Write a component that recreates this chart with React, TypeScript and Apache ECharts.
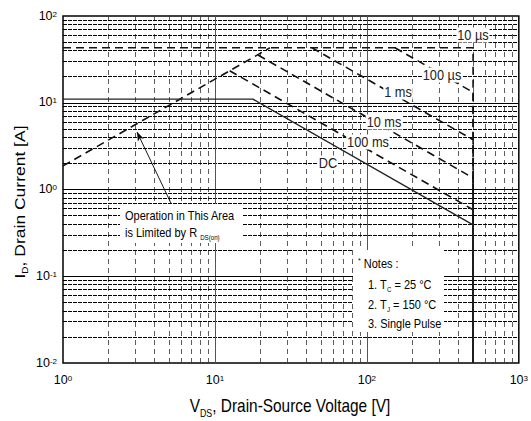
import React, { useEffect, useRef } from "react";
import * as echarts from "echarts";

const FONT = "'Liberation Sans', Arial, Helvetica, sans-serif";

// axis ranges
const xRange = [1, 1000];
const yRange = [0.01, 100];

// grid line values
const xMajorGrid = [10, 100];
const xMinorGrid = [2, 3, 4, 5, 6, 7, 8, 9, 20, 30, 40, 50, 60, 70, 80, 90, 200, 300, 400, 500, 600, 700, 800, 900];
const yMajorGrid = [0.1, 1, 10];
const yMinorGrid = [
  0.02, 0.03, 0.04, 0.05, 0.06, 0.07, 0.08, 0.09,
  0.2, 0.3, 0.4, 0.5, 0.6, 0.7, 0.8, 0.9,
  2, 3, 4, 5, 6, 7, 8, 9,
  20, 30, 40, 50, 60, 70, 80, 90,
];

// SOA boundaries: [V_DS (V), I_D (A)]
const rdsOnLimit = [[1, 1.87], [23, 43]];
const pulse10us = [[1, 43], [500, 43], [500, 0.01]];
const pulse100us = [[153, 43], [500, 13.2], [500, 0.01]];
const pulse1ms = [[43.5, 43], [500, 3.74], [500, 0.01]];
const pulse10ms = [[19.2, 35.5], [500, 1.36], [500, 0.01]];
const pulse100ms = [[12.5, 23.4], [500, 0.585], [500, 0.01]];
const dcLimit = [[1, 11], [17.8, 11], [500, 0.39], [500, 0.01]];

const curveLabels = ["10 µs", "100 µs", "1 ms", "10 ms", "100 ms", "DC"];
const arrowPath = [[5.3, 0.62], [3.07, 4.6]];

const noteLines = ["Notes :", "1. T", "2. T", "3. Single Pulse"];

export default function App() {
  const ref = useRef<HTMLDivElement>(null);

  useEffect(() => {
    if (!ref.current) return;
    const chart = echarts.init(ref.current, undefined, { renderer: "svg" });

    const tickRich = {
      b: { fontSize: 12.5, lineHeight: 12, padding: [5, 0, 0, 0], verticalAlign: "bottom", fontFamily: FONT, color: "#000" },
      s: { fontSize: 8, lineHeight: 8, verticalAlign: "top", fontFamily: FONT, color: "#000" },
    };
    const tickFmt = (v: number) => `{b|10}{s|${Math.round(Math.log10(v))}}`;

    const dashed = (name: string, data: number[][]) => ({
      type: "line",
      name,
      data,
      symbol: "none",
      z: 4,
      silent: true,
      lineStyle: { color: "#111", width: 1.6, type: [8, 5] },
    });

    const gridLine = (axis: "xAxis" | "yAxis", v: number, major: boolean) => ({
      [axis]: v,
      lineStyle: major
        ? { color: axis === "xAxis" ? "#555" : "#000", width: 1, type: "solid" }
        : axis === "xAxis"
        ? { color: "#333", width: 0.8, type: [5, 4] }
        : { color: "#000", width: 1.1, type: [4, 1] },
    });

    const labelPos = [
      [473, 35],
      [442, 75],
      [398, 92],
      [384, 122],
      [368, 142],
      [328, 163],
    ];

    const textEl = (x: number, y: number, text: string, rich: any, extra: any = {}) => ({
      type: "text",
      x,
      y,
      z: 100,
      scaleX: 0.88,
      silent: true,
      style: {
        text,
        rich,
        fontFamily: FONT,
        fontSize: 12,
        fill: "#000",
        align: "left",
        verticalAlign: "middle",
        ...extra,
      },
    });

    const noteRich = {
      n: { fontSize: 12.5, lineHeight: 14, fontFamily: FONT, fill: "#000", verticalAlign: "middle" },
      d: { fontSize: 7, lineHeight: 18, fontFamily: FONT, fill: "#000", verticalAlign: "bottom" },
      a: { fontSize: 8, lineHeight: 8, fontFamily: FONT, fill: "#000", verticalAlign: "top" },
    };
    const titleRich = {
      m: { fontSize: 17.5, lineHeight: 18, verticalAlign: "middle", fontFamily: FONT, fill: "#000" },
      d: { fontSize: 10, lineHeight: 24, verticalAlign: "bottom", fontFamily: FONT, fill: "#000" },
    };

    const option: any = {
      animation: false,
      backgroundColor: "#fff",
      grid: {
        left: 63,
        right: 12,
        top: 16,
        bottom: 58,
        show: true,
        borderColor: "#000",
        borderWidth: 1.5,
        backgroundColor: "#fff",
      },
      xAxis: {
        type: "log",
        logBase: 10,
        min: xRange[0],
        max: xRange[1],
        splitLine: { show: false },
        axisLine: { show: false },
        axisTick: { show: false },
        axisLabel: { formatter: tickFmt, rich: tickRich, margin: 11 },
      },
      yAxis: {
        type: "log",
        logBase: 10,
        min: yRange[0],
        max: yRange[1],
        splitLine: { show: false },
        axisLine: { show: false },
        axisTick: { show: false },
        axisLabel: { formatter: tickFmt, rich: tickRich, margin: 6 },
      },
      series: [
        {
          type: "line",
          name: "grid",
          data: [[1, 0.01]],
          symbol: "none",
          silent: true,
          z: 1,
          lineStyle: { opacity: 0 },
          markLine: {
            silent: true,
            symbol: "none",
            z: 1,
            label: { show: false },
            data: [
              ...xMinorGrid.map((v) => gridLine("xAxis", v, false)),
              ...yMinorGrid.map((v) => gridLine("yAxis", v, false)),
              ...xMajorGrid.map((v) => gridLine("xAxis", v, true)),
              ...yMajorGrid.map((v) => gridLine("yAxis", v, true)),
            ],
          },
        },
        dashed("RDS(on)", rdsOnLimit),
        dashed("10 µs", pulse10us),
        dashed("100 µs", pulse100us),
        dashed("1 ms", pulse1ms),
        dashed("10 ms", pulse10ms),
        dashed("100 ms", pulse100ms),
        {
          type: "line",
          name: "DC",
          data: dcLimit,
          symbol: "none",
          z: 5,
          silent: true,
          lineStyle: { color: "#222", width: 1.4, type: "solid" },
        },
        {
          type: "line",
          name: "arrow",
          data: [[1, 0.01]],
          symbol: "none",
          silent: true,
          lineStyle: { opacity: 0 },
          markLine: {
            silent: true,
            z: 6,
            symbol: ["none", "arrow"],
            symbolSize: [5, 9],
            label: { show: false },
            lineStyle: { color: "#000", width: 0.9, type: "solid" },
            data: [[{ coord: arrowPath[0] }, { coord: arrowPath[1] }]],
          },
        },
      ],
      graphic: [
        // white annotation boxes
        { type: "rect", z: 99, silent: true, shape: { x: 120, y: 204, width: 122, height: 39 }, style: { fill: "#fff" } },
        { type: "rect", z: 99, silent: true, shape: { x: 353, y: 250, width: 91, height: 82 }, style: { fill: "#fff" } },
        // curve labels
        ...curveLabels.map((t, i) =>
          textEl(labelPos[i][0], labelPos[i][1], t, undefined, {
            align: "center",
            fontSize: 14.5,
            fill: "#222",
            backgroundColor: "#fff",
            padding: [0, 1],
          })
        ),
        // R_DS(on) annotation
        textEl(125, 215, "Operation in This Area", undefined, { fontSize: 12.5 }),
        textEl(125, 232, "{n|is Limited by R }{d|DS(on)}", noteRich),
        // notes
        textEl(358, 263, `{a|*}{n| ${noteLines[0]}}`, noteRich),
        textEl(368, 284, `{n|${noteLines[1]}}{d|C}{n| = 25 °C}`, noteRich),
        textEl(368, 304, `{n|${noteLines[2]}}{d|J}{n| = 150 °C}`, noteRich),
        textEl(368, 323, noteLines[3], undefined, { fontSize: 12.5 }),
        // axis titles
        textEl(290, 406, "{m|V}{d|DS}{m|, Drain-Source Voltage [V]}", titleRich, { align: "center" }),
        {
          type: "text",
          x: 19,
          y: 202,
          z: 100,
          rotation: Math.PI / 2,
          scaleY: 0.88,
          silent: true,
          style: {
            text: "{m|I}{d|D}{m|, Drain Current [A]}",
            rich: titleRich,
            align: "center",
            verticalAlign: "middle",
            fill: "#000",
          },
        },
      ],
    };

    chart.setOption(option);
    return () => chart.dispose();
  }, []);

  return (
    <div
      ref={ref}
      style={{ position: "fixed", left: 0, top: 0, width: 531, height: 421, background: "#fff" }}
    />
  );
}
